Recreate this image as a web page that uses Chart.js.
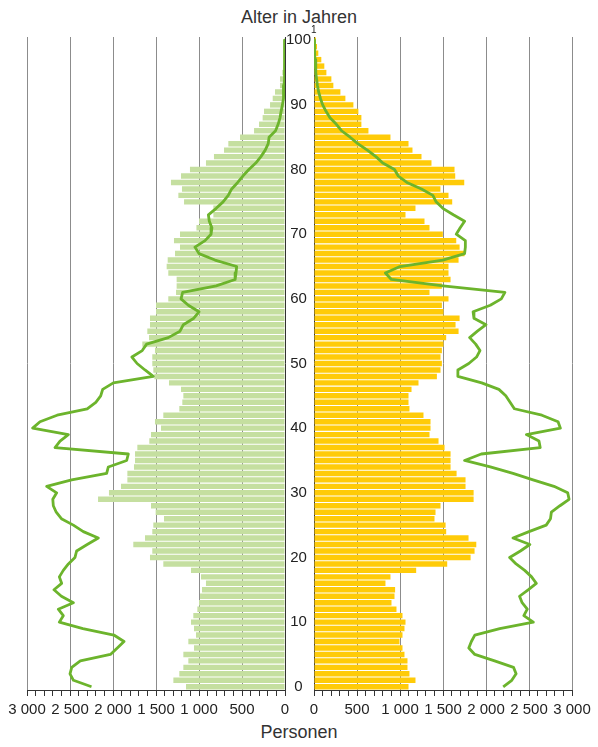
<!DOCTYPE html>
<html>
<head>
<meta charset="utf-8">
<script src="https://cdn.jsdelivr.net/npm/chart.js@4/dist/chart.umd.min.js"></script>
<style>
  body { margin: 0; background: #fff; width: 598px; height: 747px; position: relative; overflow: hidden;
         font-family: "Liberation Sans", Arial, sans-serif; color: #333; }
  canvas { position: absolute; top: 0; }
  #links { left: 0; }
  #rechts { left: 285px; }
  .titel { position: absolute; left: 0; width: 598px; text-align: center; font-size: 18px; }
</style>
</head>
<body>
<div class="titel" style="top:7px">Alter in Jahren</div>
<div class="titel" style="top:722px">Personen</div>
<canvas id="links" width="299" height="747"></canvas>
<canvas id="rechts" width="313" height="747"></canvas>
<script>
// Alter 0 bis 100
const alter = [];
for (let a = 0; a <= 100; a++) alter.push(String(a));

// Männer (links), Personen je Altersjahr 0..100
const maenner = [1151, 1298, 1229, 1182, 1124, 1182, 1058, 1124, 1035, 1058,
  1093, 1066, 1019, 1000, 988, 965, 919, 977, 1093, 1415,
  1570, 1543, 1764, 1628, 1543, 1531, 1407, 1504, 1558, 2174,
  2047, 1907, 1833, 1833, 1756, 1744, 1744, 1717, 1578, 1558,
  1442, 1512, 1415, 1229, 1194, 1182, 1209, 1349, 1519, 1531,
  1543, 1543, 1512, 1659, 1581, 1601, 1570, 1570, 1500, 1500,
  1357, 1267, 1260, 1260, 1357, 1376, 1364, 1279, 1221, 1291,
  1221, 1030, 1000, 833, 833, 1174, 1240, 1198, 1326, 1209,
  1105, 919, 826, 709, 659, 523, 360, 302, 260, 244,
  174, 143, 116, 58, 58, 31, 15, 10, 8, 5, 3];

// Frauen (rechts)
const frauen = [1099, 1180, 1110, 1087, 1087, 1052, 1029, 994, 1029, 1052,
  1064, 1029, 959, 901, 936, 943, 831, 889, 1188, 1549,
  1821, 1867, 1887, 1797, 1537, 1530, 1401, 1413, 1471, 1856,
  1856, 1762, 1762, 1658, 1588, 1588, 1588, 1518, 1448, 1343,
  1355, 1355, 1273, 1110, 1099, 1099, 1134, 1215, 1429, 1471,
  1487, 1471, 1487, 1506, 1537, 1681, 1646, 1693, 1506, 1487,
  1564, 1343, 1487, 1588, 1564, 1564, 1681, 1751, 1693, 1654,
  1498, 1343, 1285, 1064, 1180, 1607, 1564, 1470, 1747, 1642,
  1634, 1366, 1250, 1145, 1099, 889, 633, 551, 551, 516,
  458, 365, 307, 225, 202, 144, 120, 85, 50, 35, 23];

// Vergleichslinie Männer
const maennerLinie = [2250, 2460, 2500, 2480, 2380, 2030, 1950, 1872, 1990, 2350,
  2624, 2578, 2636, 2461, 2600, 2686, 2597, 2624, 2578, 2519,
  2442, 2423, 2300, 2171, 2345, 2461, 2600, 2660, 2694, 2700,
  2655, 2771, 2481, 2074, 2054, 1841, 1822, 2674, 2616, 2519,
  2934, 2849, 2650, 2300, 2200, 2143, 2120, 1996, 1531, 1628,
  1720, 1780, 1660, 1609, 1357, 1221, 1182, 1060, 1000, 1124,
  1209, 1190, 800, 580, 570, 562, 814, 1000, 1047, 930,
  860, 850, 880, 891, 800, 720, 660, 620, 550, 490,
  420, 340, 280, 230, 195, 185, 110, 80, 58, 45,
  30, 20, 15, 12, 10, 8, 6, 4, 3, 2, 1];

// Vergleichslinie Frauen
const frauenLinie = [2200, 2300, 2350, 2320, 2100, 1870, 1800, 1830, 1870, 2160,
  2550, 2440, 2480, 2420, 2390, 2490, 2585, 2530, 2450, 2350,
  2275, 2400, 2510, 2314, 2500, 2700, 2750, 2760, 2860, 2966,
  2950, 2790, 2547, 2314, 2050, 1751, 1945, 2630, 2616, 2470,
  2865, 2838, 2650, 2330, 2280, 2230, 2150, 1950, 1673, 1673,
  1800, 1890, 1930, 1880, 1810, 1900, 2000, 1860, 1850, 2050,
  2178, 2220, 1500, 900, 830, 1000, 1498, 1751, 1760, 1760,
  1654, 1700, 1751, 1620, 1498, 1420, 1382, 1250, 1080, 980,
  936, 800, 720, 620, 509, 420, 320, 260, 186, 140,
  101, 75, 54, 40, 30, 23, 18, 12, 8, 5, 2];

Chart.defaults.font.family = '"Liberation Sans", Arial, sans-serif';
Chart.defaults.color = "#222";

const gruen = "#c5dfa0";
const gelb = "#ffcb08";
const linienFarbe = "#6cb42c";

// oben 100, unten 0
const labels = alter.slice().reverse();
const rev = (arr) => arr.slice().reverse();

function zahl(v) {
    if (v >= 1000) return Math.floor(v / 1000) + " " + String(v % 1000).padStart(3, "0");
    return String(v);
}

function xAchse(umgekehrt) {
    return {
        type: "linear",
        min: 0,
        max: 3000,
        reverse: umgekehrt,
        ticks: {
            stepSize: 100,
            autoSkip: false,
            maxRotation: 0,
            padding: 5,
            font: { size: 15 },
            callback: (v) => (v % 500 === 0 ? zahl(v) : ""),
        },
        grid: {
            color: (ctx) => {
                const v = ctx.tick ? ctx.tick.value : -1;
                if (v === 0) return "#333";
                return v % 500 === 0 ? "#8c8c8c" : "rgba(0,0,0,0)";
            },
            tickColor: "#333",
            tickLength: 6,
        },
        border: { color: "#333" },
        afterFit: (s) => { s.height = 57; },
    };
}

function datensaetze(balken, linie, farbe) {
    return [
        {
            type: "line",
            data: rev(linie),
            indexAxis: "y",
            borderColor: linienFarbe,
            borderWidth: 2.8,
            borderJoinStyle: "round",
            pointRadius: 0,
            tension: 0,
            fill: false,
            order: 0,
        },
        {
            type: "bar",
            data: rev(balken),
            indexAxis: "y",
            backgroundColor: farbe,
            barPercentage: 0.84,
            categoryPercentage: 1,
            order: 1,
        },
    ];
}

new Chart(document.getElementById("links"), {
    data: { labels: labels, datasets: datensaetze(maenner, maennerLinie, gruen) },
    options: {
        indexAxis: "y",
        responsive: false,
        animation: false,
        layout: { padding: { left: 27, right: 14, top: 37, bottom: 0 } },
        plugins: { legend: { display: false }, tooltip: { enabled: false } },
        scales: {
            x: xAchse(true),
            y: { display: false },
        },
    },
});

const fussnote = {
    id: "fussnote",
    afterDraw(chart) {
        const c = chart.ctx;
        c.save();
        c.fillStyle = "#222";
        c.font = '10px "Liberation Sans", Arial, sans-serif';
        c.textBaseline = "middle";
        c.fillText("1", chart.chartArea.left - 3, 30);
        c.restore();
    },
};

new Chart(document.getElementById("rechts"), {
    data: { labels: labels, datasets: datensaetze(frauen, frauenLinie, gelb) },
    options: {
        indexAxis: "y",
        responsive: false,
        animation: false,
        layout: { padding: { left: 0, right: 26, top: 37, bottom: 0 } },
        plugins: { legend: { display: false }, tooltip: { enabled: false } },
        scales: {
            x: xAchse(false),
            y: {
                grid: { display: false, drawTicks: false },
                border: { display: false },
                ticks: {
                    autoSkip: false,
                    padding: 3,
                    crossAlign: "center",
                    font: { size: 15 },
                    callback: function (v) {
                        const l = this.getLabelForValue(v);
                        return Number(l) % 10 === 0 ? l : "";
                    },
                },
                afterFit: (s) => { s.width = 29; },
            },
        },
    },
    plugins: [fussnote],
});
</script>
</body>
</html>
